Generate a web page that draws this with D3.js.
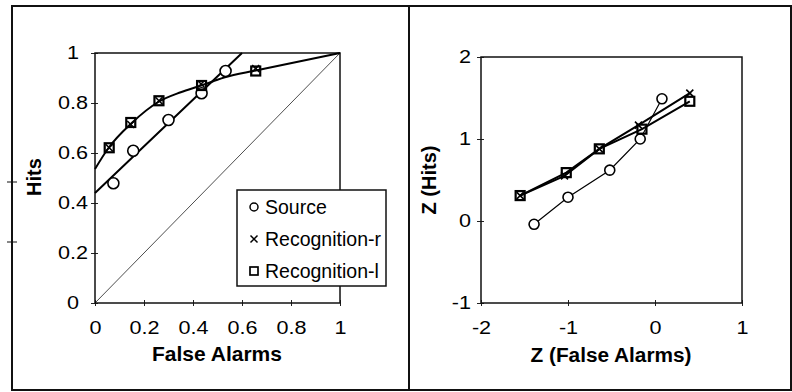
<!DOCTYPE html>
<html>
<head>
<meta charset="utf-8">
<script src="https://cdn.jsdelivr.net/npm/d3@7"></script>
<style>
  body { margin: 0; background: #fff; }
  svg text { font-family: "Liberation Sans", Arial, sans-serif; fill: #000; }
</style>
</head>
<body>
<div id="chart"></div>
<script>
// ---- ROC panel (proportions) ----
const rocTicks = [0, 0.2, 0.4, 0.6, 0.8, 1];
const sourceFA = [0.075, 0.156, 0.300, 0.435, 0.533];
const sourceHits = [0.479, 0.609, 0.732, 0.839, 0.928];
const recogRFA = [0.058, 0.146, 0.261, 0.433, 0.656];
const recogRHits = [0.621, 0.714, 0.809, 0.876, 0.938];
const recogLFA = [0.058, 0.146, 0.261, 0.435, 0.656];
const recogLHits = [0.621, 0.722, 0.809, 0.870, 0.928];

// fitted curves
const sourceFitFA = [0, 0.30, 0.60];
const sourceFitHits = [0.44, 0.72, 1.0];
const recogFitFA = [0, 0.055, 0.15, 0.26, 0.35, 0.43, 0.48, 0.53, 0.656, 1];
const recogFitHits = [0.536, 0.62, 0.72, 0.805, 0.843, 0.869, 0.886, 0.903, 0.93, 1];

// ---- z-ROC panel ----
const zTicksX = [-2, -1, 0, 1];
const zTicksY = [-1, 0, 1, 2];
const sourceZFA = [-1.39, -1.00, -0.52, -0.17, 0.08];
const sourceZHits = [-0.04, 0.29, 0.62, 1.00, 1.49];
const recogRZFA = [-1.55, -1.04, -0.64, -0.19, 0.40];
const recogRZHits = [0.31, 0.55, 0.88, 1.17, 1.56];
const recogLZFA = [-1.55, -1.02, -0.64, -0.15, 0.40];
const recogLZHits = [0.31, 0.59, 0.88, 1.12, 1.46];

const legendLabels = ["Source", "Recognition-r", "Recognition-l"];

const width = 792;
const height = 392;
const tickFont = 18;
const tickStretch = 1.2;

const svg = d3.select("#chart").append("svg")
    .attr("width", width)
    .attr("height", height);

// outer frames of the two panels
svg.append("rect")
    .attr("x", 12).attr("y", 6)
    .attr("width", 397).attr("height", 384)
    .attr("fill", "none").attr("stroke", "#111").attr("stroke-width", 2);
svg.append("rect")
    .attr("x", 409).attr("y", 6)
    .attr("width", 382).attr("height", 384)
    .attr("fill", "none").attr("stroke", "#111").attr("stroke-width", 2);

// little stray marks on the left frame
[182, 242].forEach(y => {
  svg.append("line")
      .attr("x1", 7).attr("x2", 17).attr("y1", y).attr("y2", y)
      .attr("stroke", "#111").attr("stroke-width", 1);
});

const zip = (a, b) => a.map((v, i) => [v, b[i]]);
const hyphen = f => d => f(d).replace("\u2212", "-");

function drawFrame(g, xScale, yScale, xTicks, yTicks, fmt, yLabelX, yAnchor) {
  const [x0, x1] = xScale.range();
  const [y0, y1] = yScale.range();

  const xAxis = g.append("g")
      .attr("class", "axis axis--x")
      .attr("transform", "translate(0," + y0 + ")")
      .call(d3.axisBottom(xScale).tickValues(xTicks).tickFormat(fmt).tickSize(3).tickPadding(15));
  const yAxis = g.append("g")
      .attr("class", "axis axis--y")
      .attr("transform", "translate(" + x0 + ",0)")
      .call(d3.axisLeft(yScale).tickValues(yTicks).tickFormat(fmt).tickSize(4));

  xAxis.selectAll(".domain").remove();
  yAxis.selectAll(".domain").remove();
  xAxis.selectAll(".tick line").attr("y1", -3).attr("stroke", "#222");
  yAxis.selectAll(".tick line").attr("x1", 3).attr("stroke", "#222");
  xAxis.selectAll(".tick text")
      .style("font-size", tickFont + "px")
      .attr("fill", "#000")
      .attr("transform", `scale(${tickStretch},1)`);
  yAxis.selectAll(".tick text")
      .style("font-size", tickFont + "px")
      .attr("fill", "#000")
      .attr("text-anchor", yAnchor)
      .attr("x", (yLabelX - x0) / tickStretch)
      .attr("transform", `scale(${tickStretch},1)`);

  g.append("rect")
      .attr("x", x0).attr("y", y1)
      .attr("width", x1 - x0).attr("height", y0 - y1)
      .attr("fill", "none")
      .attr("stroke", "#111")
      .attr("stroke-width", 1.5);
}

function drawMarkers(g, pts, type, xScale, yScale, r) {
  const sel = g.append("g").selectAll("g")
      .data(pts)
      .join("g")
        .attr("transform", d => `translate(${xScale(d[0])},${yScale(d[1])})`);
  if (type === "circle") {
    sel.append("circle")
        .attr("r", r)
        .attr("fill", "#fff")
        .attr("stroke", "#000")
        .attr("stroke-width", 1.6);
  } else if (type === "square") {
    sel.append("rect")
        .attr("x", -r).attr("y", -r)
        .attr("width", 2 * r).attr("height", 2 * r)
        .attr("fill", "none")
        .attr("stroke", "#000")
        .attr("stroke-width", 2.2);
  } else {
    sel.append("path")
        .attr("d", `M${-r},${-r}L${r},${r}M${-r},${r}L${r},${-r}`)
        .attr("stroke", "#000")
        .attr("stroke-width", 1.6);
  }
}

// ---------- left panel: ROC ----------
const left = svg.append("g");

const xRoc = d3.scaleLinear().domain([0, 1]).range([95, 340]);
const yRoc = d3.scaleLinear().domain([0, 1]).range([303, 53]);

drawFrame(left, xRoc, yRoc, rocTicks, rocTicks, d3.format("~g"), 73, "middle");

// chance diagonal
left.append("path")
    .attr("fill", "none")
    .attr("stroke", "#000")
    .attr("stroke-width", 0.7)
    .attr("d", d3.line().x(d => xRoc(d[0])).y(d => yRoc(d[1]))([[0, 0], [1, 1]]));

const fitLine = d3.line()
    .curve(d3.curveMonotoneX)
    .x(d => xRoc(d[0]))
    .y(d => yRoc(d[1]));

left.selectAll(".fit")
    .data([zip(sourceFitFA, sourceFitHits), zip(recogFitFA, recogFitHits)])
    .join("path")
      .attr("class", "fit")
      .attr("fill", "none")
      .attr("stroke", "#000")
      .attr("stroke-width", 2)
      .attr("d", d => fitLine(d));

drawMarkers(left, zip(sourceFA, sourceHits), "circle", xRoc, yRoc, 5.5);
drawMarkers(left, zip(recogLFA, recogLHits), "square", xRoc, yRoc, 4.5);
drawMarkers(left, zip(recogRFA, recogRHits), "cross", xRoc, yRoc, 3.5);

left.append("text")
    .attr("text-anchor", "middle")
    .attr("transform", "translate(41,177) rotate(-90)")
    .style("font-size", "20px")
    .style("font-weight", "bold")
    .text("Hits");

left.append("text")
    .attr("text-anchor", "middle")
    .attr("transform", "translate(217,361) scale(1.05,1)")
    .style("font-size", "20px")
    .style("font-weight", "bold")
    .text("False Alarms");

// legend
const legend = left.append("g").attr("transform", "translate(237,190)");
legend.append("rect")
    .attr("width", 149).attr("height", 96)
    .attr("fill", "#fff")
    .attr("stroke", "#111")
    .attr("stroke-width", 1.5);

const legendItems = legend.selectAll(".item")
    .data(legendLabels)
    .join("g")
      .attr("class", "item")
      .attr("transform", (_, i) => `translate(17,${17 + i * 32})`);

legendItems.append("text")
    .attr("x", 11).attr("y", 7)
    .style("font-size", "19.5px")
    .text(d => d);

legendItems.filter((_, i) => i === 0).append("circle")
    .attr("r", 4).attr("fill", "#fff").attr("stroke", "#000").attr("stroke-width", 1.5);
legendItems.filter((_, i) => i === 1).append("path")
    .attr("d", "M-3.5,-3.5L3.5,3.5M-3.5,3.5L3.5,-3.5")
    .attr("stroke", "#000").attr("stroke-width", 1.5);
legendItems.filter((_, i) => i === 2).append("rect")
    .attr("x", -4).attr("y", -4).attr("width", 8).attr("height", 8)
    .attr("fill", "none").attr("stroke", "#000").attr("stroke-width", 1.7);

// ---------- right panel: z-ROC ----------
const right = svg.append("g");

const xZ = d3.scaleLinear().domain([-2, 1]).range([481, 742]);
const yZ = d3.scaleLinear().domain([-1, 2]).range([303, 57]);

drawFrame(right, xZ, yZ, zTicksX, zTicksY, hyphen(d3.format("d")), 471, "end");

const zLine = d3.line()
    .x(d => xZ(d[0]))
    .y(d => yZ(d[1]));

right.selectAll(".zcurve")
    .data([
      { pts: zip(sourceZFA, sourceZHits), w: 1.2 },
      { pts: zip(recogRZFA, recogRZHits), w: 2 },
      { pts: zip(recogLZFA, recogLZHits), w: 2 }
    ])
    .join("path")
      .attr("class", "zcurve")
      .attr("fill", "none")
      .attr("stroke", "#000")
      .attr("stroke-width", d => d.w)
      .attr("d", d => zLine(d.pts));

drawMarkers(right, zip(sourceZFA, sourceZHits), "circle", xZ, yZ, 5);
drawMarkers(right, zip(recogLZFA, recogLZHits), "square", xZ, yZ, 4.5);
drawMarkers(right, zip(recogRZFA, recogRZHits), "cross", xZ, yZ, 3.5);

right.append("text")
    .attr("text-anchor", "middle")
    .attr("transform", "translate(436,180) rotate(-90)")
    .style("font-size", "20px")
    .style("font-weight", "bold")
    .text("Z (Hits)");

right.append("text")
    .attr("text-anchor", "middle")
    .attr("transform", "translate(611,362) scale(1.04,1)")
    .style("font-size", "20px")
    .style("font-weight", "bold")
    .text("Z (False Alarms)");
</script>
</body>
</html>
